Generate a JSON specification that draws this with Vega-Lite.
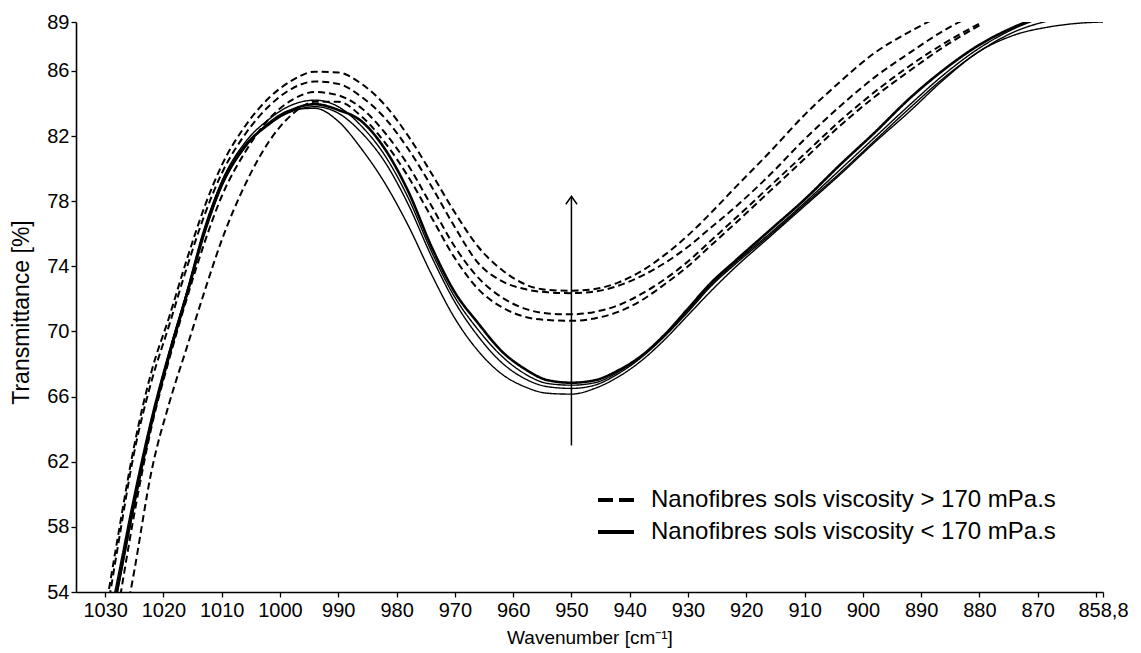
{
  "$schema": "https://vega.github.io/schema/vega-lite/v6.json",
  "width": 1027,
  "height": 570,
  "autosize": "none",
  "padding": {"left": 76, "top": 22, "right": 38, "bottom": 61},
  "background": "white",
  "config": {
    "view": {"stroke": null},
    "font": "Liberation Sans",
    "axis": {"domainColor": "black", "domainWidth": 1.6, "tickColor": "black", "tickWidth": 1.3, "labelColor": "black", "titleColor": "black", "titleFontWeight": "normal", "grid": false, "labelFont": "Liberation Sans", "titleFont": "Liberation Sans"},
    "legend": {"labelFont": "Liberation Sans"}
  },
  "datasets": {
    "curves": [
      {"curve":"SA","group":"< 170","wn":1034,"t":44.0},{"curve":"SA","group":"< 170","wn":1031,"t":48.6},{"curve":"SA","group":"< 170","wn":1028,"t":54.0},{"curve":"SA","group":"< 170","wn":1025,"t":59.5},{"curve":"SA","group":"< 170","wn":1022,"t":64.5},{"curve":"SA","group":"< 170","wn":1019,"t":68.6},{"curve":"SA","group":"< 170","wn":1016,"t":72.3},{"curve":"SA","group":"< 170","wn":1013,"t":76.2},{"curve":"SA","group":"< 170","wn":1010,"t":79.1},{"curve":"SA","group":"< 170","wn":1006,"t":81.4},{"curve":"SA","group":"< 170","wn":1002,"t":82.7},{"curve":"SA","group":"< 170","wn":998,"t":83.6},{"curve":"SA","group":"< 170","wn":994,"t":83.95},{"curve":"SA","group":"< 170","wn":990,"t":83.6},{"curve":"SA","group":"< 170","wn":986,"t":82.9},{"curve":"SA","group":"< 170","wn":982,"t":81.2},{"curve":"SA","group":"< 170","wn":978,"t":78.6},{"curve":"SA","group":"< 170","wn":974,"t":75.2},{"curve":"SA","group":"< 170","wn":970,"t":72.4},{"curve":"SA","group":"< 170","wn":966,"t":70.5},{"curve":"SA","group":"< 170","wn":962,"t":68.8},{"curve":"SA","group":"< 170","wn":958,"t":67.7},{"curve":"SA","group":"< 170","wn":954,"t":67.0},{"curve":"SA","group":"< 170","wn":950,"t":66.85},{"curve":"SA","group":"< 170","wn":946,"t":67.0},{"curve":"SA","group":"< 170","wn":942,"t":67.6},{"curve":"SA","group":"< 170","wn":938,"t":68.5},{"curve":"SA","group":"< 170","wn":934,"t":69.8},{"curve":"SA","group":"< 170","wn":930,"t":71.4},{"curve":"SA","group":"< 170","wn":926,"t":73.0},{"curve":"SA","group":"< 170","wn":922,"t":74.3},{"curve":"SA","group":"< 170","wn":916,"t":76.2},{"curve":"SA","group":"< 170","wn":910,"t":78.1},{"curve":"SA","group":"< 170","wn":904,"t":80.2},{"curve":"SA","group":"< 170","wn":898,"t":82.2},{"curve":"SA","group":"< 170","wn":892,"t":84.3},{"curve":"SA","group":"< 170","wn":886,"t":86.1},{"curve":"SA","group":"< 170","wn":880,"t":87.6},{"curve":"SA","group":"< 170","wn":874,"t":88.7},{"curve":"SA","group":"< 170","wn":868,"t":89.5},
      {"curve":"SB","group":"< 170","wn":1034,"t":44.3},{"curve":"SB","group":"< 170","wn":1031,"t":48.9},{"curve":"SB","group":"< 170","wn":1028,"t":54.2},{"curve":"SB","group":"< 170","wn":1025,"t":59.7},{"curve":"SB","group":"< 170","wn":1022,"t":64.6},{"curve":"SB","group":"< 170","wn":1019,"t":68.7},{"curve":"SB","group":"< 170","wn":1016,"t":72.4},{"curve":"SB","group":"< 170","wn":1013,"t":76.2},{"curve":"SB","group":"< 170","wn":1010,"t":79.2},{"curve":"SB","group":"< 170","wn":1006,"t":81.6},{"curve":"SB","group":"< 170","wn":1002,"t":83.0},{"curve":"SB","group":"< 170","wn":998,"t":83.9},{"curve":"SB","group":"< 170","wn":994,"t":84.2},{"curve":"SB","group":"< 170","wn":990,"t":83.8},{"curve":"SB","group":"< 170","wn":986,"t":82.6},{"curve":"SB","group":"< 170","wn":982,"t":80.8},{"curve":"SB","group":"< 170","wn":978,"t":78.2},{"curve":"SB","group":"< 170","wn":974,"t":74.9},{"curve":"SB","group":"< 170","wn":970,"t":72.1},{"curve":"SB","group":"< 170","wn":966,"t":70.1},{"curve":"SB","group":"< 170","wn":962,"t":68.5},{"curve":"SB","group":"< 170","wn":958,"t":67.4},{"curve":"SB","group":"< 170","wn":954,"t":66.8},{"curve":"SB","group":"< 170","wn":950,"t":66.7},{"curve":"SB","group":"< 170","wn":946,"t":66.85},{"curve":"SB","group":"< 170","wn":942,"t":67.5},{"curve":"SB","group":"< 170","wn":938,"t":68.5},{"curve":"SB","group":"< 170","wn":934,"t":69.8},{"curve":"SB","group":"< 170","wn":930,"t":71.3},{"curve":"SB","group":"< 170","wn":926,"t":72.9},{"curve":"SB","group":"< 170","wn":922,"t":74.2},{"curve":"SB","group":"< 170","wn":916,"t":76.0},{"curve":"SB","group":"< 170","wn":910,"t":77.9},{"curve":"SB","group":"< 170","wn":904,"t":79.9},{"curve":"SB","group":"< 170","wn":898,"t":81.9},{"curve":"SB","group":"< 170","wn":892,"t":83.9},{"curve":"SB","group":"< 170","wn":886,"t":85.8},{"curve":"SB","group":"< 170","wn":880,"t":87.4},{"curve":"SB","group":"< 170","wn":874,"t":88.6},{"curve":"SB","group":"< 170","wn":868,"t":89.4},
      {"curve":"SC","group":"< 170","wn":1034,"t":43.8},{"curve":"SC","group":"< 170","wn":1031,"t":48.4},{"curve":"SC","group":"< 170","wn":1028,"t":53.8},{"curve":"SC","group":"< 170","wn":1025,"t":59.3},{"curve":"SC","group":"< 170","wn":1022,"t":64.3},{"curve":"SC","group":"< 170","wn":1019,"t":68.4},{"curve":"SC","group":"< 170","wn":1016,"t":72.1},{"curve":"SC","group":"< 170","wn":1013,"t":75.9},{"curve":"SC","group":"< 170","wn":1010,"t":78.9},{"curve":"SC","group":"< 170","wn":1006,"t":81.3},{"curve":"SC","group":"< 170","wn":1002,"t":82.7},{"curve":"SC","group":"< 170","wn":998,"t":83.5},{"curve":"SC","group":"< 170","wn":994,"t":83.8},{"curve":"SC","group":"< 170","wn":990,"t":83.4},{"curve":"SC","group":"< 170","wn":986,"t":82.2},{"curve":"SC","group":"< 170","wn":982,"t":80.4},{"curve":"SC","group":"< 170","wn":978,"t":77.8},{"curve":"SC","group":"< 170","wn":974,"t":74.6},{"curve":"SC","group":"< 170","wn":970,"t":71.8},{"curve":"SC","group":"< 170","wn":966,"t":69.7},{"curve":"SC","group":"< 170","wn":962,"t":68.1},{"curve":"SC","group":"< 170","wn":958,"t":67.1},{"curve":"SC","group":"< 170","wn":954,"t":66.6},{"curve":"SC","group":"< 170","wn":950,"t":66.5},{"curve":"SC","group":"< 170","wn":946,"t":66.7},{"curve":"SC","group":"< 170","wn":942,"t":67.4},{"curve":"SC","group":"< 170","wn":938,"t":68.4},{"curve":"SC","group":"< 170","wn":934,"t":69.7},{"curve":"SC","group":"< 170","wn":930,"t":71.2},{"curve":"SC","group":"< 170","wn":926,"t":72.8},{"curve":"SC","group":"< 170","wn":922,"t":74.1},{"curve":"SC","group":"< 170","wn":916,"t":75.9},{"curve":"SC","group":"< 170","wn":910,"t":77.8},{"curve":"SC","group":"< 170","wn":904,"t":79.7},{"curve":"SC","group":"< 170","wn":898,"t":81.7},{"curve":"SC","group":"< 170","wn":892,"t":83.7},{"curve":"SC","group":"< 170","wn":886,"t":85.6},{"curve":"SC","group":"< 170","wn":880,"t":87.2},{"curve":"SC","group":"< 170","wn":874,"t":88.4},{"curve":"SC","group":"< 170","wn":868,"t":89.1},{"curve":"SC","group":"< 170","wn":862,"t":89.6},
      {"curve":"SD","group":"< 170","wn":1034,"t":44.5},{"curve":"SD","group":"< 170","wn":1031,"t":49.3},{"curve":"SD","group":"< 170","wn":1028,"t":54.6},{"curve":"SD","group":"< 170","wn":1025,"t":60.0},{"curve":"SD","group":"< 170","wn":1022,"t":64.8},{"curve":"SD","group":"< 170","wn":1019,"t":68.8},{"curve":"SD","group":"< 170","wn":1016,"t":72.4},{"curve":"SD","group":"< 170","wn":1013,"t":76.0},{"curve":"SD","group":"< 170","wn":1010,"t":78.9},{"curve":"SD","group":"< 170","wn":1006,"t":81.3},{"curve":"SD","group":"< 170","wn":1002,"t":82.8},{"curve":"SD","group":"< 170","wn":998,"t":83.6},{"curve":"SD","group":"< 170","wn":994,"t":83.7},{"curve":"SD","group":"< 170","wn":990,"t":82.9},{"curve":"SD","group":"< 170","wn":986,"t":81.2},{"curve":"SD","group":"< 170","wn":982,"t":79.1},{"curve":"SD","group":"< 170","wn":978,"t":76.5},{"curve":"SD","group":"< 170","wn":974,"t":73.5},{"curve":"SD","group":"< 170","wn":970,"t":70.8},{"curve":"SD","group":"< 170","wn":966,"t":68.8},{"curve":"SD","group":"< 170","wn":962,"t":67.4},{"curve":"SD","group":"< 170","wn":958,"t":66.6},{"curve":"SD","group":"< 170","wn":954,"t":66.2},{"curve":"SD","group":"< 170","wn":950,"t":66.15},{"curve":"SD","group":"< 170","wn":946,"t":66.5},{"curve":"SD","group":"< 170","wn":942,"t":67.2},{"curve":"SD","group":"< 170","wn":938,"t":68.2},{"curve":"SD","group":"< 170","wn":934,"t":69.5},{"curve":"SD","group":"< 170","wn":930,"t":71.0},{"curve":"SD","group":"< 170","wn":926,"t":72.5},{"curve":"SD","group":"< 170","wn":922,"t":73.9},{"curve":"SD","group":"< 170","wn":916,"t":75.8},{"curve":"SD","group":"< 170","wn":910,"t":77.7},{"curve":"SD","group":"< 170","wn":904,"t":79.6},{"curve":"SD","group":"< 170","wn":898,"t":81.6},{"curve":"SD","group":"< 170","wn":892,"t":83.5},{"curve":"SD","group":"< 170","wn":886,"t":85.5},{"curve":"SD","group":"< 170","wn":880,"t":87.2},{"curve":"SD","group":"< 170","wn":874,"t":88.2},{"curve":"SD","group":"< 170","wn":868,"t":88.7},{"curve":"SD","group":"< 170","wn":862,"t":88.95},{"curve":"SD","group":"< 170","wn":858.8,"t":89.0},
      {"curve":"D1","group":"> 170","wn":1034,"t":43.5},{"curve":"D1","group":"> 170","wn":1031,"t":50.5},{"curve":"D1","group":"> 170","wn":1028,"t":57.0},{"curve":"D1","group":"> 170","wn":1025,"t":63.0},{"curve":"D1","group":"> 170","wn":1022,"t":67.6},{"curve":"D1","group":"> 170","wn":1019,"t":70.9},{"curve":"D1","group":"> 170","wn":1016,"t":74.4},{"curve":"D1","group":"> 170","wn":1013,"t":77.6},{"curve":"D1","group":"> 170","wn":1010,"t":80.2},{"curve":"D1","group":"> 170","wn":1006,"t":82.6},{"curve":"D1","group":"> 170","wn":1002,"t":84.3},{"curve":"D1","group":"> 170","wn":998,"t":85.4},{"curve":"D1","group":"> 170","wn":994,"t":85.95},{"curve":"D1","group":"> 170","wn":990,"t":85.9},{"curve":"D1","group":"> 170","wn":986,"t":85.2},{"curve":"D1","group":"> 170","wn":982,"t":83.9},{"curve":"D1","group":"> 170","wn":978,"t":82.0},{"curve":"D1","group":"> 170","wn":974,"t":79.7},{"curve":"D1","group":"> 170","wn":970,"t":77.3},{"curve":"D1","group":"> 170","wn":966,"t":75.2},{"curve":"D1","group":"> 170","wn":962,"t":73.8},{"curve":"D1","group":"> 170","wn":958,"t":72.9},{"curve":"D1","group":"> 170","wn":954,"t":72.55},{"curve":"D1","group":"> 170","wn":950,"t":72.5},{"curve":"D1","group":"> 170","wn":946,"t":72.6},{"curve":"D1","group":"> 170","wn":942,"t":73.0},{"curve":"D1","group":"> 170","wn":938,"t":73.7},{"curve":"D1","group":"> 170","wn":934,"t":74.7},{"curve":"D1","group":"> 170","wn":930,"t":75.9},{"curve":"D1","group":"> 170","wn":926,"t":77.3},{"curve":"D1","group":"> 170","wn":922,"t":78.8},{"curve":"D1","group":"> 170","wn":916,"t":81.0},{"curve":"D1","group":"> 170","wn":910,"t":83.3},{"curve":"D1","group":"> 170","wn":904,"t":85.3},{"curve":"D1","group":"> 170","wn":898,"t":87.1},{"curve":"D1","group":"> 170","wn":892,"t":88.4},{"curve":"D1","group":"> 170","wn":886,"t":89.5},
      {"curve":"D2","group":"> 170","wn":1034,"t":43.0},{"curve":"D2","group":"> 170","wn":1031,"t":49.8},{"curve":"D2","group":"> 170","wn":1028,"t":56.4},{"curve":"D2","group":"> 170","wn":1025,"t":62.6},{"curve":"D2","group":"> 170","wn":1022,"t":67.0},{"curve":"D2","group":"> 170","wn":1019,"t":70.4},{"curve":"D2","group":"> 170","wn":1016,"t":73.9},{"curve":"D2","group":"> 170","wn":1013,"t":77.1},{"curve":"D2","group":"> 170","wn":1010,"t":79.7},{"curve":"D2","group":"> 170","wn":1006,"t":82.1},{"curve":"D2","group":"> 170","wn":1002,"t":83.8},{"curve":"D2","group":"> 170","wn":998,"t":84.9},{"curve":"D2","group":"> 170","wn":994,"t":85.35},{"curve":"D2","group":"> 170","wn":990,"t":85.2},{"curve":"D2","group":"> 170","wn":986,"t":84.4},{"curve":"D2","group":"> 170","wn":982,"t":83.1},{"curve":"D2","group":"> 170","wn":978,"t":81.2},{"curve":"D2","group":"> 170","wn":974,"t":78.9},{"curve":"D2","group":"> 170","wn":970,"t":76.4},{"curve":"D2","group":"> 170","wn":966,"t":74.2},{"curve":"D2","group":"> 170","wn":962,"t":73.1},{"curve":"D2","group":"> 170","wn":958,"t":72.6},{"curve":"D2","group":"> 170","wn":954,"t":72.4},{"curve":"D2","group":"> 170","wn":950,"t":72.35},{"curve":"D2","group":"> 170","wn":946,"t":72.45},{"curve":"D2","group":"> 170","wn":942,"t":72.8},{"curve":"D2","group":"> 170","wn":938,"t":73.4},{"curve":"D2","group":"> 170","wn":934,"t":74.2},{"curve":"D2","group":"> 170","wn":930,"t":75.2},{"curve":"D2","group":"> 170","wn":926,"t":76.4},{"curve":"D2","group":"> 170","wn":922,"t":77.6},{"curve":"D2","group":"> 170","wn":916,"t":79.6},{"curve":"D2","group":"> 170","wn":910,"t":81.8},{"curve":"D2","group":"> 170","wn":904,"t":83.8},{"curve":"D2","group":"> 170","wn":898,"t":85.6},{"curve":"D2","group":"> 170","wn":892,"t":87.1},{"curve":"D2","group":"> 170","wn":886,"t":88.5},{"curve":"D2","group":"> 170","wn":880,"t":89.6},
      {"curve":"D3","group":"> 170","wn":1034,"t":40.5},{"curve":"D3","group":"> 170","wn":1031,"t":46.5},{"curve":"D3","group":"> 170","wn":1028,"t":52.5},{"curve":"D3","group":"> 170","wn":1025,"t":58.8},{"curve":"D3","group":"> 170","wn":1022,"t":64.2},{"curve":"D3","group":"> 170","wn":1019,"t":68.3},{"curve":"D3","group":"> 170","wn":1016,"t":72.0},{"curve":"D3","group":"> 170","wn":1013,"t":75.4},{"curve":"D3","group":"> 170","wn":1010,"t":78.3},{"curve":"D3","group":"> 170","wn":1006,"t":81.0},{"curve":"D3","group":"> 170","wn":1002,"t":83.0},{"curve":"D3","group":"> 170","wn":998,"t":84.2},{"curve":"D3","group":"> 170","wn":994,"t":84.7},{"curve":"D3","group":"> 170","wn":990,"t":84.5},{"curve":"D3","group":"> 170","wn":986,"t":83.7},{"curve":"D3","group":"> 170","wn":982,"t":82.2},{"curve":"D3","group":"> 170","wn":978,"t":80.2},{"curve":"D3","group":"> 170","wn":974,"t":77.7},{"curve":"D3","group":"> 170","wn":970,"t":75.2},{"curve":"D3","group":"> 170","wn":966,"t":73.3},{"curve":"D3","group":"> 170","wn":962,"t":72.1},{"curve":"D3","group":"> 170","wn":958,"t":71.4},{"curve":"D3","group":"> 170","wn":954,"t":71.1},{"curve":"D3","group":"> 170","wn":950,"t":71.05},{"curve":"D3","group":"> 170","wn":946,"t":71.2},{"curve":"D3","group":"> 170","wn":942,"t":71.6},{"curve":"D3","group":"> 170","wn":938,"t":72.3},{"curve":"D3","group":"> 170","wn":934,"t":73.2},{"curve":"D3","group":"> 170","wn":930,"t":74.3},{"curve":"D3","group":"> 170","wn":926,"t":75.6},{"curve":"D3","group":"> 170","wn":922,"t":76.9},{"curve":"D3","group":"> 170","wn":916,"t":78.9},{"curve":"D3","group":"> 170","wn":910,"t":80.9},{"curve":"D3","group":"> 170","wn":904,"t":82.9},{"curve":"D3","group":"> 170","wn":898,"t":84.7},{"curve":"D3","group":"> 170","wn":892,"t":86.3},{"curve":"D3","group":"> 170","wn":886,"t":87.7},{"curve":"D3","group":"> 170","wn":880,"t":88.9},
      {"curve":"D4","group":"> 170","wn":1034,"t":37.0},{"curve":"D4","group":"> 170","wn":1031,"t":43.5},{"curve":"D4","group":"> 170","wn":1028,"t":49.5},{"curve":"D4","group":"> 170","wn":1025,"t":55.3},{"curve":"D4","group":"> 170","wn":1022,"t":61.5},{"curve":"D4","group":"> 170","wn":1019,"t":65.6},{"curve":"D4","group":"> 170","wn":1016,"t":69.0},{"curve":"D4","group":"> 170","wn":1013,"t":72.4},{"curve":"D4","group":"> 170","wn":1010,"t":75.6},{"curve":"D4","group":"> 170","wn":1006,"t":79.0},{"curve":"D4","group":"> 170","wn":1002,"t":81.6},{"curve":"D4","group":"> 170","wn":998,"t":83.3},{"curve":"D4","group":"> 170","wn":994,"t":84.1},{"curve":"D4","group":"> 170","wn":990,"t":84.1},{"curve":"D4","group":"> 170","wn":986,"t":83.2},{"curve":"D4","group":"> 170","wn":982,"t":81.6},{"curve":"D4","group":"> 170","wn":978,"t":79.5},{"curve":"D4","group":"> 170","wn":974,"t":77.0},{"curve":"D4","group":"> 170","wn":970,"t":74.5},{"curve":"D4","group":"> 170","wn":966,"t":72.6},{"curve":"D4","group":"> 170","wn":962,"t":71.5},{"curve":"D4","group":"> 170","wn":958,"t":70.9},{"curve":"D4","group":"> 170","wn":954,"t":70.7},{"curve":"D4","group":"> 170","wn":950,"t":70.65},{"curve":"D4","group":"> 170","wn":946,"t":70.8},{"curve":"D4","group":"> 170","wn":942,"t":71.2},{"curve":"D4","group":"> 170","wn":938,"t":71.9},{"curve":"D4","group":"> 170","wn":934,"t":72.9},{"curve":"D4","group":"> 170","wn":930,"t":74.0},{"curve":"D4","group":"> 170","wn":926,"t":75.3},{"curve":"D4","group":"> 170","wn":922,"t":76.6},{"curve":"D4","group":"> 170","wn":916,"t":78.6},{"curve":"D4","group":"> 170","wn":910,"t":80.6},{"curve":"D4","group":"> 170","wn":904,"t":82.6},{"curve":"D4","group":"> 170","wn":898,"t":84.4},{"curve":"D4","group":"> 170","wn":892,"t":86.0},{"curve":"D4","group":"> 170","wn":886,"t":87.5},{"curve":"D4","group":"> 170","wn":880,"t":88.8}
    ],
    "arrow": [{"wn": 950, "lo": 63.0, "hi": 78.3}]
  },
  "layer": [
    {
      "data": {"name": "curves"},
      "mark": {"type": "line", "clip": true, "interpolate": "monotone", "color": "black"},
      "encoding": {
        "x": {"field": "wn", "type": "quantitative",
          "scale": {"domain": [858.8, 1035], "reverse": true, "nice": false, "zero": false},
          "axis": {"title": "Wavenumber [cm⁻¹]", "values": [1030,1020,1010,1000,990,980,970,960,950,940,930,920,910,900,890,880,870,860,858.8],
            "format": "d", "labelExpr": "datum.value == 860 ? '' : (datum.value == 858.8 ? '858,8' : datum.label)",
            "labelOverlap": false, "labelFlush": false, "labelBound": false, "tickSize": 5, "labelPadding": 3, "labelFontSize": 20,
            "titleFontSize": 19, "titleY": 45, "titleBaseline": "middle"}},
        "y": {"field": "t", "type": "quantitative",
          "scale": {"domain": [54, 89], "nice": false, "zero": false},
          "axis": {"title": "Transmittance [%]", "values": [54,56,58,60,62,64,66,68,70,72,74,76,78,80,82,84,86,88,89],
            "format": "d", "labelExpr": "indexof([54,58,62,66,70,74,78,82,86,89], datum.value) >= 0 ? datum.label : ''",
            "labelOverlap": false, "tickSize": 5, "labelPadding": 2, "labelFontSize": 20,
            "titleFontSize": 23, "titleX": -55, "titleY": 290, "titleAngle": -90, "titleBaseline": "middle", "titleAlign": "center"}},
        "detail": {"field": "curve", "type": "nominal"},
        "strokeDash": {"field": "group", "type": "nominal", "scale": {"domain": ["> 170", "< 170"], "range": [[7, 4], [1, 0]]}, "legend": null},
        "strokeWidth": {"condition": [{"test": "datum.curve === 'SA'", "value": 2.6}, {"test": "datum.group === '> 170'", "value": 2.0}], "value": 1.4}
      }
    },
    {
      "data": {"name": "curves"},
      "transform": [{"filter": "false"}],
      "mark": {"type": "line", "color": "black", "strokeWidth": 4},
      "encoding": {
        "x": {"field": "wn", "type": "quantitative"},
        "y": {"field": "t", "type": "quantitative"},
        "strokeDash": {"field": "group", "type": "nominal",
          "scale": {"domain": ["> 170", "< 170"], "range": [[15, 6], [1, 0]]},
          "legend": {"title": null, "orient": "none", "legendX": 520, "legendY": 458, "padding": 0,
            "symbolType": "stroke", "symbolSize": 1296, "symbolStrokeWidth": 4, "symbolStrokeColor": "black",
            "labelFontSize": 24, "labelOffset": 15, "rowPadding": 0, "labelColor": "black", "labelLimit": 0,
            "labelExpr": "'Nanofibres sols viscosity ' + datum.label + ' mPa.s'"}}
      }
    },
    {
      "data": {"name": "arrow"},
      "mark": {"type": "rule", "color": "black", "strokeWidth": 1.5},
      "encoding": {
        "x": {"field": "wn", "type": "quantitative"},
        "y": {"field": "lo", "type": "quantitative"},
        "y2": {"field": "hi"}
      }
    },
    {
      "data": {"name": "arrow"},
      "mark": {"type": "point", "shape": "M-0.7,1L0,0L0.7,1", "size": 256, "filled": false, "stroke": "black", "strokeWidth": 1.5, "opacity": 1},
      "encoding": {
        "x": {"field": "wn", "type": "quantitative"},
        "y": {"field": "hi", "type": "quantitative"}
      }
    }
  ],
  "resolve": {"scale": {"strokeDash": "independent"}}
}
